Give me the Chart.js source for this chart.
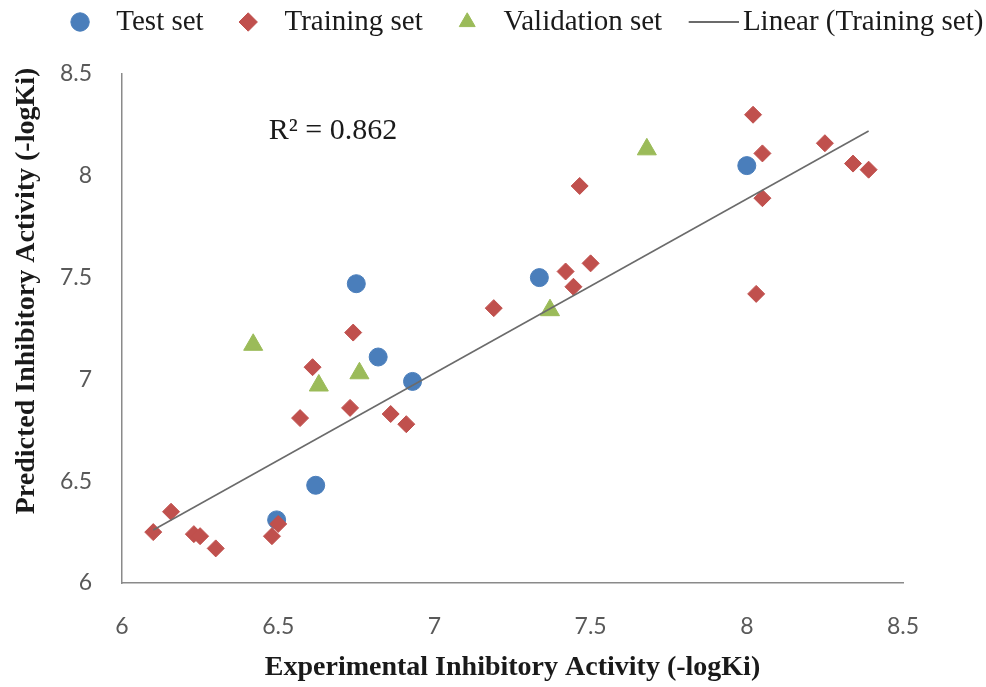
<!DOCTYPE html>
<html>
<head>
<meta charset="utf-8">
<title>Predicted vs experimental inhibitory activity</title>
<script src="https://cdn.jsdelivr.net/npm/chart.js@4.4.1/dist/chart.umd.min.js"></script>
<style>
  html, body { margin: 0; padding: 0; background: #fff; }
  #wrap { width: 986px; height: 687px; position: relative; }
</style>
</head>
<body>
<div id="wrap"><canvas id="chart"></canvas></div>
<script>
// values
const testX = [6.495, 6.62, 6.75, 6.82, 6.93, 7.336, 8.00];
const testY = [6.31, 6.48, 7.47, 7.11, 6.99, 7.50, 8.05];

const trainX = [6.10, 6.157, 6.23, 6.25, 6.30, 6.48, 6.50, 6.57, 6.61, 6.73, 6.74, 6.86, 6.91,
                7.19, 7.42, 7.445, 7.465, 7.50, 8.02, 8.03, 8.05, 8.05, 8.25, 8.34, 8.39];
const trainY = [6.25, 6.35, 6.24, 6.23, 6.17, 6.23, 6.29, 6.81, 7.06, 6.86, 7.23, 6.83, 6.78,
                7.35, 7.53, 7.455, 7.95, 7.57, 8.30, 7.42, 8.11, 7.89, 8.16, 8.06, 8.03];

const validX = [6.42, 6.63, 6.76, 7.37, 7.68];
const validY = [7.17, 6.97, 7.03, 7.34, 8.13];

// ends of the linear trend line (training set)
const trendX = [6.10, 8.39];
const trendY = [6.26, 8.22];

const axisTicks = [6, 6.5, 7, 7.5, 8, 8.5];
const seriesNames = ["Test set", "Training set", "Validation set", "Linear (Training set)"];
const r2Text = "R\u00B2 = 0.862";
const xTitle = "Experimental Inhibitory Activity (-logKi)";
const yTitle = "Predicted Inhibitory Activity (-logKi)";

function pts(xs, ys) {
  return xs.map(function (x, i) { return { x: x, y: ys[i] }; });
}

// long grey stroke for the trend line legend entry
const lineMark = document.createElement("canvas");
lineMark.width = 64; lineMark.height = 4;
(function () {
  const c = lineMark.getContext("2d");
  c.strokeStyle = "#6b6b6b"; c.lineWidth = 2;
  c.beginPath(); c.moveTo(14, 2); c.lineTo(64, 2); c.stroke();
})();

const extras = {
  id: "extras",
  beforeInit(chart) {
    const legend = chart.legend;
    const fit = legend.fit;
    legend.fit = function () {
      fit.bind(legend)();
      this.height = 98.5;
    };
    // nudge the legend row to where the reference has it
    const draw = legend.draw;
    legend.draw = function () {
      const c = chart.ctx;
      c.save();
      c.translate(31.5, 2);
      draw.apply(legend, arguments);
      c.restore();
    };
  },
  afterDatasetsDraw(chart) {
    const ctx = chart.ctx;
    const xs = chart.scales.x, ys = chart.scales.y;
    ctx.save();
    ctx.fillStyle = "#1a1a1a";
    ctx.font = "30px 'Liberation Serif', 'Times New Roman', serif";
    ctx.textAlign = "left";
    ctx.textBaseline = "middle";
    ctx.fillText(r2Text, xs.getPixelForValue(6.47), ys.getPixelForValue(8.22));
    ctx.restore();
  },
  afterDraw(chart) {
    const ctx = chart.ctx;
    ctx.save();
    ctx.translate(27, 291);
    ctx.rotate(-Math.PI / 2);
    ctx.fillStyle = "#1a1a1a";
    ctx.font = "bold 28px 'Liberation Serif', 'Times New Roman', serif";
    ctx.textAlign = "center";
    ctx.textBaseline = "middle";
    ctx.fillText(yTitle, 0, 0);
    ctx.restore();
  }
};

const tickFont = { family: "Lato, 'Open Sans', sans-serif", size: 23 };
const tickLabel = function (v) { return String(v); };

new Chart(document.getElementById("chart"), {
  type: "scatter",
  data: {
    datasets: [
      { label: seriesNames[0], data: pts(testX, testY), order: 3,
        pointStyle: "circle", pointRadius: 9, backgroundColor: "#4a7ebb", borderColor: "#4a7ebb", borderWidth: 1 },
      { label: seriesNames[1], data: pts(trainX, trainY), order: 2,
        pointStyle: "rectRot", pointRadius: 8.5, backgroundColor: "#c0504d", borderColor: "#c0504d", borderWidth: 1 },
      { label: seriesNames[2], data: pts(validX, validY), order: 1,
        pointStyle: "triangle", pointRadius: 11, backgroundColor: "#9bbb59", borderColor: "#9bbb59", borderWidth: 1 },
      { label: seriesNames[3], data: pts(trendX, trendY), order: 0, showLine: true,
        pointRadius: 0, pointStyle: "line", borderColor: "#6b6b6b", backgroundColor: "#6b6b6b", borderWidth: 1.6 }
    ]
  },
  options: {
    responsive: true,
    maintainAspectRatio: false,
    animation: false,
    layout: { padding: { top: -24.5, left: 0, right: 0, bottom: 0 } },
    plugins: {
      tooltip: { enabled: false },
      legend: {
        position: "top",
        labels: {
          usePointStyle: true,
          boxWidth: 29,
          boxHeight: 13,
          padding: 30,
          color: "#1a1a1a",
          font: { family: "'Liberation Serif', 'Times New Roman', serif", size: 29 },
          sort: function (a, b) { return a.datasetIndex - b.datasetIndex; },
          generateLabels: function (chart) {
            const items = Chart.defaults.plugins.legend.labels.generateLabels(chart);
            items.forEach(function (it) {
              it.text = " " + it.text;
              if (it.datasetIndex === 3) it.pointStyle = lineMark;
            });
            return items;
          }
        }
      }
    },
    scales: {
      x: {
        type: "linear",
        min: 6, max: 8.5,
        afterBuildTicks: function (s) { s.ticks = axisTicks.map(function (v) { return { value: v }; }); },
        afterFit: function (s) { s.height = 104; },
        grid: { display: false, drawTicks: false },
        border: { display: true, color: "#8a8a8a", width: 1.5 },
        ticks: { color: "#595959", font: tickFont, padding: 30, callback: tickLabel },
        title: {
          display: true, text: xTitle, color: "#1a1a1a", padding: { top: 0, bottom: 2 },
          font: { family: "'Liberation Serif', 'Times New Roman', serif", size: 28, weight: "bold" }
        }
      },
      y: {
        type: "linear",
        min: 6, max: 8.5,
        afterBuildTicks: function (s) { s.ticks = axisTicks.map(function (v) { return { value: v }; }); },
        afterFit: function (s) { s.width = 122; },
        grid: { display: false, drawTicks: false },
        border: { display: true, color: "#8a8a8a", width: 1.5 },
        ticks: { color: "#595959", font: tickFont, padding: 30, callback: tickLabel }
      },
      yPad: {
        type: "linear",
        position: "right",
        min: 0, max: 1,
        afterFit: function (s) { s.width = 83; },
        grid: { display: false, drawTicks: false },
        border: { display: false },
        ticks: { display: false }
      }
    }
  },
  plugins: [extras]
});
</script>
</body>
</html>
